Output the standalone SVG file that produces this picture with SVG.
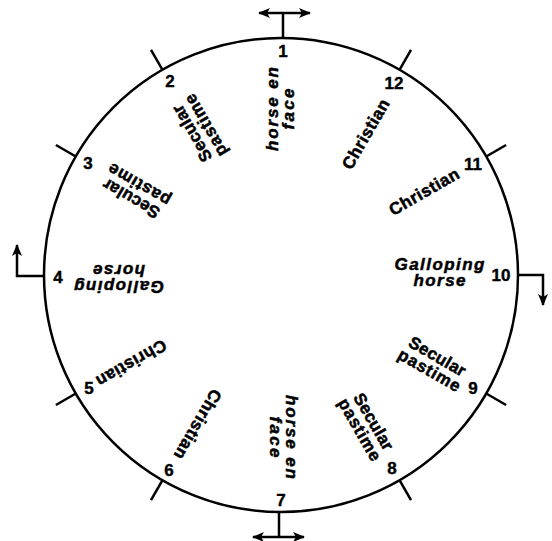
<svg xmlns="http://www.w3.org/2000/svg" width="552" height="541" viewBox="0 0 552 541">
<style>
.ln{fill:none;stroke:#000;stroke-width:2.5}
.num{font-family:"Liberation Sans",Arial,sans-serif;font-weight:bold;font-size:17px;text-anchor:middle;fill:#000;stroke:#000;stroke-width:0.4}
.lab{font-family:"Liberation Sans",Arial,sans-serif;font-weight:bold;font-size:17px;text-anchor:middle;fill:#000;stroke:#000;stroke-width:0.5}
.it{font-style:italic}
</style>
<defs>
<marker id="ah" viewBox="0 0 12 10" refX="11" refY="5" markerWidth="13" markerHeight="10" markerUnits="userSpaceOnUse" orient="auto-start-reverse">
<path d="M0,0 L12,5 L0,10 L3,5 Z" fill="#000"/>
</marker>
</defs>
<rect width="552" height="541" fill="#fff"/>
<g id="dial">
<circle class="ln" cx="281" cy="275" r="237"/>
</g>
<g id="connectors">
<line class="ln" x1="283" y1="38" x2="283" y2="13"/>
<line class="ln" x1="259" y1="13" x2="310" y2="13" marker-start="url(#ah)" marker-end="url(#ah)"/>
<line class="ln" x1="279" y1="512" x2="279" y2="537"/>
<line class="ln" x1="253" y1="537" x2="304" y2="537" marker-start="url(#ah)" marker-end="url(#ah)"/>
<polyline class="ln" points="44,276 17,276 17,245" marker-end="url(#ah)"/>
<polyline class="ln" points="518,275 543,275 543,305" marker-end="url(#ah)"/>
<line class="ln" x1="162.5" y1="69.8" x2="151" y2="49.9"/>
<line class="ln" x1="75.8" y1="156.5" x2="55.9" y2="145"/>
<line class="ln" x1="75.8" y1="393.5" x2="55.9" y2="405"/>
<line class="ln" x1="162.5" y1="480.2" x2="151" y2="500.1"/>
<line class="ln" x1="399.5" y1="480.2" x2="411" y2="500.1"/>
<line class="ln" x1="486.2" y1="393.5" x2="506.1" y2="405"/>
<line class="ln" x1="486.2" y1="156.5" x2="506.1" y2="145"/>
<line class="ln" x1="399.5" y1="69.8" x2="411" y2="49.9"/>
</g>
<g id="sector1">
<text class="num" x="283" y="57">1</text>
<g transform="translate(281,109) rotate(-90)"><text class="lab it" y="-3" textLength="84" lengthAdjust="spacing">horse en</text><text class="lab it" y="13" textLength="41" lengthAdjust="spacing">face</text></g>
</g>
<g id="sector2">
<text class="num" x="170" y="87">2</text>
<g transform="translate(199.5,129) rotate(-120)"><text class="lab" y="-3" textLength="63" lengthAdjust="spacing">Secular</text><text class="lab" y="13" textLength="69" lengthAdjust="spacing">pastime</text></g>
</g>
<g id="sector3">
<text class="num" x="88" y="169">3</text>
<g transform="translate(135.5,191) rotate(-150)"><text class="lab" y="-3" textLength="63" lengthAdjust="spacing">Secular</text><text class="lab" y="13" textLength="69" lengthAdjust="spacing">pastime</text></g>
</g>
<g id="sector4">
<text class="num" x="58" y="283">4</text>
<g transform="translate(119,277.5) rotate(180)"><text class="lab it" y="-3" textLength="90" lengthAdjust="spacing">Galloping</text><text class="lab it" y="13" textLength="52" lengthAdjust="spacing">horse</text></g>
</g>
<g id="sector5">
<text class="num" x="89" y="394">5</text>
<g transform="translate(131.5,363.5) rotate(150)"><text class="lab" y="6" textLength="78" lengthAdjust="spacing">Christian</text></g>
</g>
<g id="sector6">
<text class="num" x="169" y="476">6</text>
<g transform="translate(198,424.5) rotate(120)"><text class="lab" y="6" textLength="78" lengthAdjust="spacing">Christian</text></g>
</g>
<g id="sector7">
<text class="num" x="281" y="506">7</text>
<g transform="translate(283,437) rotate(90)"><text class="lab it" y="-3" textLength="84" lengthAdjust="spacing">horse en</text><text class="lab it" y="13" textLength="41" lengthAdjust="spacing">face</text></g>
</g>
<g id="sector8">
<text class="num" x="392" y="474">8</text>
<g transform="translate(366,426) rotate(60)"><text class="lab" y="-3" textLength="63" lengthAdjust="spacing">Secular</text><text class="lab" y="13" textLength="69" lengthAdjust="spacing">pastime</text></g>
</g>
<g id="sector9">
<text class="num" x="473" y="394">9</text>
<g transform="translate(433,364) rotate(30)"><text class="lab" y="-3" textLength="63" lengthAdjust="spacing">Secular</text><text class="lab" y="13" textLength="69" lengthAdjust="spacing">pastime</text></g>
</g>
<g id="sector10">
<text class="num" x="501" y="281">10</text>
<g transform="translate(439.5,272.5)"><text class="lab it" y="-3" textLength="90" lengthAdjust="spacing">Galloping</text><text class="lab it" y="13" textLength="52" lengthAdjust="spacing">horse</text></g>
</g>
<g id="sector11">
<text class="num" x="473" y="170">11</text>
<g transform="translate(424,191.5) rotate(-30)"><text class="lab" y="6" textLength="78" lengthAdjust="spacing">Christian</text></g>
</g>
<g id="sector12">
<text class="num" x="394" y="89">12</text>
<g transform="translate(365.5,134) rotate(-60)"><text class="lab" y="6" textLength="78" lengthAdjust="spacing">Christian</text></g>
</g>
</svg>
